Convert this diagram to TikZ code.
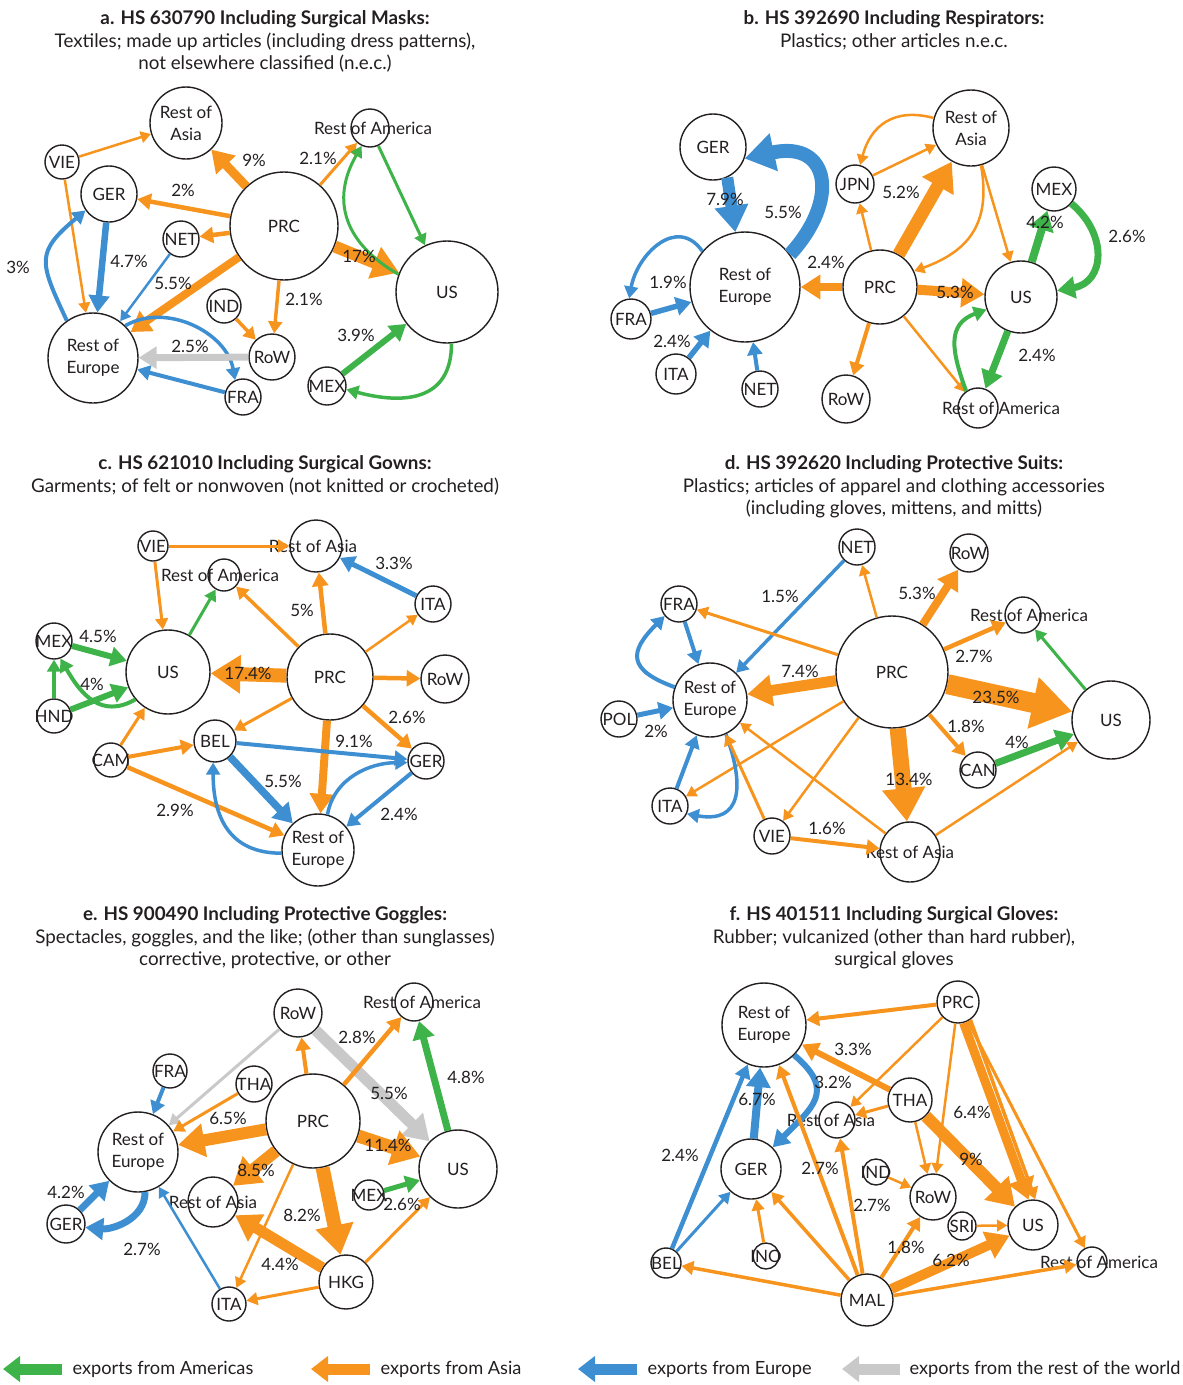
\documentclass[tikz,border=0pt]{standalone}
\usepackage{fontspec}
\setmainfont{Lato}
\usetikzlibrary{arrows.meta, positioning}

\definecolor{amer}{HTML}{3DB34A}
\definecolor{asia}{HTML}{F7941D}
\definecolor{euro}{HTML}{3D8FD1}
\definecolor{rest}{HTML}{C9C9C9}
\definecolor{ink}{HTML}{231F20}

% label of zero width, shifted by half of #1
\newcommand\ctxt[2][0]{\makebox[0pt]{\hspace*{#1pt}#2}}

\tikzset{
    ctry/.style={circle, draw=ink, fill=white, line width=1.4pt, inner sep=0pt,
        minimum size=#1pt, align=center, text=ink},
    flow/.style={-{Triangle[length=6pt 1.7, width=6pt 2.2]}},
    am/.style={flow, draw=amer},
    as/.style={flow, draw=asia},
    eu/.style={flow, draw=euro},
    rw/.style={flow, draw=rest},
    lw/.style={line width=#1pt},
    pct/.style={text=ink, inner sep=0pt},
    ttl/.style={align=center, text=ink, anchor=north, font=\fontsize{18.8}{22.5}\selectfont},
    key/.style={-{Triangle[length=17pt, width=25pt]}, line width=11pt},
    keytxt/.style={anchor=west, text=ink, font=\fontsize{18.2}{20}\selectfont},
}

\begin{document}
\begin{tikzpicture}[x=1pt, y=1pt, font=\fontsize{17}{22}\selectfont]
    \useasboundingbox (0,0) rectangle (1183,-1385);

    % a. surgical masks
    \node[ttl] (aT) at (265,-7) {\textbf{a. HS 630790 Including Surgical Masks:}\\Textiles; made up articles (including dress patterns),\\not elsewhere classified (n.e.c.)};
    \node[ctry=72] (aRAs) at (186,-123) {Rest of\\Asia};
    \node[ctry=34] (aVIE) at (62,-162) {\ctxt{VIE}};
    \node[ctry=56] (aGER) at (109,-194) {\ctxt{GER}};
    \node[ctry=108] (aPRC) at (284,-226) {\ctxt{PRC}};
    \node[ctry=36] (aNET) at (181,-239) {\ctxt{NET}};
    \node[ctry=38] (aRAm) at (370,-128) {\ctxt[6]{Rest of America}};
    \node[ctry=102] (aUS) at (447,-292) {\ctxt{US}};
    \node[ctry=34] (aIND) at (224,-306) {\ctxt{IND}};
    \node[ctry=46] (aRoW) at (272,-357) {\ctxt{RoW}};
    \node[ctry=90] (aRE) at (93,-358) {Rest of\\Europe};
    \node[ctry=36] (aFRA) at (243,-397) {\ctxt{FRA}};
    \node[ctry=38] (aMEX) at (327,-386) {\ctxt{MEX}};

    \draw[as, lw=2.5] (aVIE) -- (aRAs);
    \draw[as, lw=2.5] (aVIE) -- (aRE);
    \draw[as, lw=9] (aPRC) -- (aRAs);
    \draw[as, lw=4.5] (aPRC) -- (aGER);
    \draw[as, lw=4.5] (aPRC) -- (aNET);
    \draw[as, lw=8] (aPRC) -- (aRE);
    \draw[as, lw=3] (aPRC) -- (aRAm);
    \draw[as, lw=12] (aPRC) -- (aUS);
    \draw[as, lw=3.5] (aPRC) -- (aRoW);
    \draw[as, lw=3.5] (aIND) -- (aRoW);
    \draw[am, lw=3] (aRAm) -- (aUS);
    \draw[am, lw=3] (aUS.160) to[out=150, in=240, looseness=1.2] (aRAm.245);
    \draw[am, lw=6] (aMEX) -- (aUS);
    \draw[am, lw=3.5] (aUS.275) to[out=270, in=-15, looseness=1.3] (aMEX.-10);
    \draw[eu, lw=6.5] (aGER) -- (aRE);
    \draw[eu, lw=4] (aRE.125) to[out=115, in=220, looseness=1.5] (aGER.215);
    \draw[eu, lw=2.5] (aNET) -- (aRE);
    \draw[eu, lw=3.5] (aRE.45) to[out=30, in=100] (aFRA.115);
    \draw[eu, lw=4] (aFRA) -- (aRE);
    \draw[rw, lw=7] (aRoW) -- (aRE);

    \node[pct] (aP1) at (254,-160) {9\%};
    \node[pct] (aP2) at (183,-190) {2\%};
    \node[pct] (aP3) at (173,-283) {5.5\%};
    \node[pct] (aP4) at (318,-158) {2.1\%};
    \node[pct] (aP5) at (359,-256) {17\%};
    \node[pct] (aP6) at (304,-299) {2.1\%};
    \node[pct] (aP7) at (129,-261) {4.7\%};
    \node[pct] (aP8) at (18,-267) {3\%};
    \node[pct] (aP9) at (190,-346) {2.5\%};
    \node[pct] (aP10) at (356,-335) {3.9\%};

    % b. respirators
    \node[ttl] (bT) at (894,-7) {\textbf{b. HS 392690 Including Respirators:}\\Plastics; other articles n.e.c.};
    \node[ctry=66] (bGER) at (713,-147) {\ctxt{GER}};
    \node[ctry=110] (bRE) at (745,-287) {Rest of\\Europe};
    \node[ctry=40] (bFRA) at (631,-319) {\ctxt{FRA}};
    \node[ctry=40] (bITA) at (676,-374) {\ctxt{ITA}};
    \node[ctry=36] (bNET) at (760,-389) {\ctxt{NET}};
    \node[ctry=38] (bJPN) at (855,-184) {\ctxt{JPN}};
    \node[ctry=76] (bRAs) at (971,-128) {Rest of\\Asia};
    \node[ctry=74] (bPRC) at (880,-287) {\ctxt{PRC}};
    \node[ctry=48] (bRoW) at (846,-399) {\ctxt{RoW}};
    \node[ctry=44] (bMEX) at (1054,-189) {\ctxt{MEX}};
    \node[ctry=72] (bUS) at (1021,-297) {\ctxt{US}};
    \node[ctry=40] (bRAm) at (978,-408) {\ctxt[46]{Rest of America}};

    \draw[eu, lw=12] (bGER.-65) -- (bRE.100);
    \draw[eu, lw=14] (bRE.36) .. controls (840,-200) and (830,-140) .. (bGER.-20);
    \draw[eu, lw=3.5] (bRE.140) to[out=125, in=80, looseness=1.3] (bFRA.95);
    \draw[eu, lw=5.5] (bFRA) -- (bRE);
    \draw[eu, lw=5.5] (bITA) -- (bRE);
    \draw[eu, lw=4] (bNET) -- (bRE);
    \draw[as, lw=8] (bPRC) -- (bRE);
    \draw[as, lw=2.5] (bPRC) -- (bJPN);
    \draw[as, lw=2.5] (bJPN) -- (bRAs);
    \draw[as, lw=13] (bPRC) -- (bRAs);
    \draw[as, lw=2.5] (bRAs.165) to[out=165, in=75, looseness=1.2] (bJPN.75);
    \draw[as, lw=2.5] (bRAs) -- (bUS);
    \draw[as, lw=2.5] (bRAs.285) to[out=280, in=20, looseness=1.2] (bPRC.25);
    \draw[as, lw=10] (bPRC) -- (bUS);
    \draw[as, lw=4] (bPRC) -- (bRoW);
    \draw[as, lw=2.5] (bPRC) -- (bRAm);
    \draw[am, lw=8] (bUS) -- (bMEX);
    \draw[am, lw=7] (bMEX.-40) to[out=-40, in=10, looseness=1.4] (bUS.10);
    \draw[am, lw=7] (bUS) -- (bRAm);
    \draw[am, lw=4] (bRAm.125) to[out=110, in=200, looseness=1.3] (bUS.200);

    \node[pct] (bP1) at (725,-199) {7.9\%};
    \node[pct] (bP2) at (783,-212) {5.5\%};
    \node[pct] (bP3) at (668,-282) {1.9\%};
    \node[pct] (bP4) at (672,-341) {2.4\%};
    \node[pct] (bP5) at (826,-262) {2.4\%};
    \node[pct] (bP6) at (901,-192) {5.2\%};
    \node[pct] (bP7) at (955,-292) {5.3\%};
    \node[pct] (bP8) at (1045,-222) {4.2\%};
    \node[pct] (bP9) at (1127,-236) {2.6\%};
    \node[pct] (bP10) at (1037,-355) {2.4\%};

    % c. surgical gowns
    \node[ttl] (cT) at (265,-452) {\textbf{c. HS 621010 Including Surgical Gowns:}\\Garments; of felt or nonwoven (not knitted or crocheted)};
    \node[ctry=30] (cVIE) at (153,-546) {\ctxt{VIE}};
    \node[ctry=52] (cRAs) at (316,-546) {\ctxt[-6]{Rest of Asia}};
    \node[ctry=32] (cRAm) at (224,-575) {\ctxt[-8]{Rest of America}};
    \node[ctry=36] (cITA) at (433,-604) {\ctxt{ITA}};
    \node[ctry=36] (cMEX) at (54,-641) {\ctxt{MEX}};
    \node[ctry=84] (cUS) at (168,-672) {\ctxt{US}};
    \node[ctry=86] (cPRC) at (330,-677) {\ctxt{PRC}};
    \node[ctry=48] (cRoW) at (445,-679) {\ctxt{RoW}};
    \node[ctry=34] (cHND) at (54,-716) {\ctxt{HND}};
    \node[ctry=34] (cCAM) at (111,-760) {\ctxt{CAM}};
    \node[ctry=42] (cBEL) at (215,-741) {\ctxt{BEL}};
    \node[ctry=36] (cGER) at (426,-761) {\ctxt{GER}};
    \node[ctry=72] (cRE) at (318,-850) {Rest of\\Europe};

    \draw[as, lw=3] (cVIE) -- (cRAs);
    \draw[as, lw=3] (cVIE) -- (cUS);
    \draw[am, lw=3] (cUS) -- (cRAm);
    \draw[as, lw=3.5] (cPRC) -- (cRAm);
    \draw[as, lw=4.5] (cPRC) -- (cRAs);
    \draw[eu, lw=5] (cITA) -- (cRAs);
    \draw[as, lw=2.5] (cPRC) -- (cITA);
    \draw[as, lw=14] (cPRC) -- (cUS);
    \draw[as, lw=4.5] (cPRC) -- (cRoW);
    \draw[as, lw=3] (cPRC) -- (cBEL);
    \draw[as, lw=4.5] (cPRC) -- (cGER);
    \draw[as, lw=8] (cPRC) -- (cRE);
    \draw[am, lw=6] (cMEX) -- (cUS);
    \draw[am, lw=6] (cHND) -- (cUS);
    \draw[am, lw=3.5] (cHND) -- (cMEX);
    \draw[am, lw=4] (cUS.220) to[out=210, in=300, looseness=1.2] (cMEX.290);
    \draw[as, lw=3] (cCAM) -- (cUS);
    \draw[as, lw=4] (cCAM) -- (cBEL);
    \draw[as, lw=4.5] (cCAM) -- (cRE);
    \draw[eu, lw=4] (cBEL) -- (cGER);
    \draw[eu, lw=7.5] (cBEL) -- (cRE);
    \draw[eu, lw=3.5] (cRE.185) to[out=180, in=270, looseness=1.2] (cBEL.265);
    \draw[eu, lw=3.5] (cRE.75) to[out=80, in=180] (cGER.185);
    \draw[eu, lw=4] (cGER) -- (cRE);

    \node[pct] (cP1) at (302,-610) {5\%};
    \node[pct] (cP2) at (394,-563) {3.3\%};
    \node[pct] (cP3) at (248,-673) {17.4\%};
    \node[pct] (cP4) at (407,-717) {2.6\%};
    \node[pct] (cP5) at (354,-741) {9.1\%};
    \node[pct] (cP6) at (98,-636) {4.5\%};
    \node[pct] (cP7) at (92,-684) {4\%};
    \node[pct] (cP8) at (175,-810) {2.9\%};
    \node[pct] (cP9) at (283,-781) {5.5\%};
    \node[pct] (cP10) at (399,-814) {2.4\%};

    % d. protective suits
    \node[ttl] (dT) at (894,-452) {\textbf{d. HS 392620 Including Protective Suits:}\\Plastics; articles of apparel and clothing accessories\\(including gloves, mittens, and mitts)};
    \node[ctry=36] (dNET) at (857,-547) {\ctxt{NET}};
    \node[ctry=38] (dRoW) at (969,-553) {\ctxt{RoW}};
    \node[ctry=36] (dFRA) at (679,-604) {\ctxt{FRA}};
    \node[ctry=36] (dRAm) at (1023,-615) {\ctxt[12]{Rest of America}};
    \node[ctry=112] (dPRC) at (892,-672) {\ctxt{PRC}};
    \node[ctry=74] (dRE) at (710,-700) {Rest of\\Europe};
    \node[ctry=36] (dPOL) at (619,-719) {\ctxt{POL}};
    \node[ctry=78] (dUS) at (1111,-720) {\ctxt{US}};
    \node[ctry=36] (dCAN) at (978,-770) {\ctxt{CAN}};
    \node[ctry=36] (dITA) at (670,-806) {\ctxt{ITA}};
    \node[ctry=36] (dVIE) at (772,-836) {\ctxt{VIE}};
    \node[ctry=60] (dRAs) at (910,-852) {\ctxt{Rest of Asia}};

    \draw[eu, lw=3.5] (dNET) -- (dRE);
    \draw[as, lw=2.5] (dPRC) -- (dNET);
    \draw[as, lw=8] (dPRC) -- (dRoW);
    \draw[as, lw=4.5] (dPRC) -- (dRAm);
    \draw[as, lw=3] (dPRC) -- (dFRA);
    \draw[as, lw=11] (dPRC) -- (dRE);
    \draw[as, lw=20] (dPRC) -- (dUS);
    \draw[as, lw=4] (dPRC) -- (dCAN);
    \draw[as, lw=16] (dPRC) -- (dRAs);
    \draw[as, lw=2.5] (dPRC) -- (dITA);
    \draw[as, lw=2.5] (dPRC) -- (dVIE);
    \draw[am, lw=3] (dUS) -- (dRAm);
    \draw[am, lw=7] (dCAN) -- (dUS);
    \draw[eu, lw=4] (dRE.160) to[out=160, in=225, looseness=1.8] (dFRA.220);
    \draw[eu, lw=4] (dFRA) -- (dRE);
    \draw[eu, lw=5] (dPOL) -- (dRE);
    \draw[eu, lw=4] (dITA) -- (dRE);
    \draw[eu, lw=3.5] (dRE.-65) to[out=-70, in=-10, looseness=1.6] (dITA.-25);
    \draw[as, lw=3] (dVIE) -- (dRE);
    \draw[as, lw=4] (dVIE) -- (dRAs);
    \draw[as, lw=2.5] (dRAs) -- (dRE);
    \draw[as, lw=2.5] (dRAs) -- (dUS);

    \node[pct] (dP1) at (780,-596) {1.5\%};
    \node[pct] (dP2) at (917,-593) {5.3\%};
    \node[pct] (dP3) at (974,-656) {2.7\%};
    \node[pct] (dP4) at (800,-671) {7.4\%};
    \node[pct] (dP5) at (996,-697) {23.5\%};
    \node[pct] (dP6) at (966,-726) {1.8\%};
    \node[pct] (dP7) at (909,-779) {13.4\%};
    \node[pct] (dP8) at (1017,-742) {4\%};
    \node[pct] (dP9) at (656,-731) {2\%};
    \node[pct] (dP10) at (827,-828) {1.6\%};

    % e. protective goggles
    \node[ttl] (eT) at (265,-903) {\textbf{e. HS 900490 Including Protective Goggles:}\\Spectacles, goggles, and the like; (other than sunglasses)\\corrective, protective, or other};
    \node[ctry=48] (eRoW) at (298,-1013) {\ctxt{RoW}};
    \node[ctry=38] (eRAm) at (414,-1002) {\ctxt[16]{Rest of America}};
    \node[ctry=34] (eFRA) at (170,-1071) {\ctxt{FRA}};
    \node[ctry=36] (eTHA) at (254,-1084) {\ctxt{THA}};
    \node[ctry=94] (ePRC) at (313,-1121) {\ctxt{PRC}};
    \node[ctry=78] (eUS) at (458,-1169) {\ctxt{US}};
    \node[ctry=80] (eRE) at (138,-1152) {Rest of\\Europe};
    \node[ctry=50] (eRAs) at (213,-1202) {\ctxt{Rest of Asia}};
    \node[ctry=30] (eMEX) at (369,-1195) {\ctxt{MEX}};
    \node[ctry=38] (eGER) at (66,-1224) {\ctxt{GER}};
    \node[ctry=54] (eHKG) at (346,-1282) {\ctxt{HKG}};
    \node[ctry=34] (eITA) at (229,-1304) {\ctxt{ITA}};

    \draw[rw, lw=3] (eRoW) -- (eRE);
    \draw[rw, lw=11] (eRoW) -- (eUS);
    \draw[as, lw=4] (ePRC) -- (eRoW);
    \draw[as, lw=4.5] (ePRC) -- (eRAm);
    \draw[am, lw=7] (eUS) -- (eRAm);
    \draw[eu, lw=4] (eFRA) -- (eRE);
    \draw[as, lw=3] (eTHA) -- (eRE);
    \draw[as, lw=12] (ePRC) -- (eRE);
    \draw[as, lw=13] (ePRC) -- (eUS);
    \draw[as, lw=12] (ePRC) -- (eRAs);
    \draw[as, lw=14] (ePRC) -- (eHKG);
    \draw[as, lw=2.5] (ePRC) -- (eITA);
    \draw[as, lw=11] (eHKG) -- (eRAs);
    \draw[as, lw=3] (eHKG) -- (eITA);
    \draw[as, lw=3] (eHKG) -- (eUS);
    \draw[am, lw=5] (eMEX) -- (eUS);
    \draw[eu, lw=7] (eGER) -- (eRE);
    \draw[eu, lw=7] (eRE.-80) to[out=-90, in=-5] (eGER.-10);
    \draw[eu, lw=2.5] (eITA) -- (eRE);

    \node[pct] (eP1) at (389,-1093) {5.5\%};
    \node[pct] (eP2) at (357,-1037) {2.8\%};
    \node[pct] (eP3) at (466,-1077) {4.8\%};
    \node[pct] (eP4) at (228,-1118) {6.5\%};
    \node[pct] (eP5) at (388,-1145) {11.4\%};
    \node[pct] (eP6) at (256,-1170) {8.5\%};
    \node[pct] (eP7) at (302,-1215) {8.2\%};
    \node[pct] (eP8) at (280,-1264) {4.4\%};
    \node[pct] (eP9) at (402,-1204) {2.6\%};
    \node[pct] (eP10) at (66,-1192) {4.2\%};
    \node[pct] (eP11) at (142,-1249) {2.7\%};

    % f. surgical gloves
    \node[ttl] (fT) at (894,-903) {\textbf{f. HS 401511 Including Surgical Gloves:}\\Rubber; vulcanized (other than hard rubber),\\surgical gloves};
    \node[ctry=84] (fRE) at (764,-1025) {Rest of\\Europe};
    \node[ctry=42] (fPRC) at (958,-1002) {\ctxt{PRC}};
    \node[ctry=44] (fTHA) at (910,-1100) {\ctxt{THA}};
    \node[ctry=36] (fRAs) at (837,-1120) {\ctxt[-12]{Rest of Asia}};
    \node[ctry=60] (fGER) at (751,-1169) {\ctxt{GER}};
    \node[ctry=26] (fIND) at (876,-1172) {\ctxt{IND}};
    \node[ctry=46] (fRoW) at (933,-1197) {\ctxt{RoW}};
    \node[ctry=28] (fSRI) at (962,-1226) {\ctxt{SRI}};
    \node[ctry=50] (fUS) at (1033,-1225) {\ctxt{US}};
    \node[ctry=30] (fRAm) at (1092,-1262) {\ctxt[14]{Rest of America}};
    \node[ctry=30] (fBEL) at (666,-1263) {\ctxt{BEL}};
    \node[ctry=26] (fINO) at (766,-1256) {\ctxt{INO}};
    \node[ctry=52] (fMAL) at (867,-1300) {\ctxt{MAL}};

    \draw[as, lw=4] (fPRC) -- (fRE);
    \draw[as, lw=2.5] (fPRC) -- (fRAs);
    \draw[as, lw=2.5] (fPRC) -- (fRoW);
    \draw[as, lw=9] (fPRC.-75) -- (fUS.100);
    \draw[as, lw=3.5] (fPRC.-55) -- (fUS.85);
    \draw[as, lw=3] (fPRC) -- (fRAm);
    \draw[as, lw=6] (fTHA) -- (fRE);
    \draw[as, lw=3] (fTHA) -- (fRAs);
    \draw[as, lw=2.5] (fTHA) -- (fRoW);
    \draw[as, lw=12] (fTHA) -- (fUS);
    \draw[eu, lw=6] (fRE.-45) to[out=-40, in=45, looseness=1.5] (fGER.45);
    \draw[eu, lw=8] (fGER) -- (fRE);
    \draw[eu, lw=4.5] (fBEL) -- (fRE);
    \draw[eu, lw=3] (fBEL) -- (fGER);
    \draw[as, lw=3] (fINO) -- (fGER);
    \draw[as, lw=3.5] (fMAL) -- (fBEL);
    \draw[as, lw=3.5] (fMAL) -- (fGER);
    \draw[as, lw=4] (fMAL) -- (fRE);
    \draw[as, lw=4] (fMAL) -- (fRAs);
    \draw[as, lw=4] (fMAL) -- (fRoW);
    \draw[as, lw=10] (fMAL) -- (fUS);
    \draw[as, lw=3.5] (fMAL) -- (fRAm);
    \draw[as, lw=2.5] (fIND) -- (fRoW);
    \draw[as, lw=2.5] (fSRI) -- (fUS);

    \node[pct] (fP1) at (853,-1049) {3.3\%};
    \node[pct] (fP2) at (833,-1082) {3.2\%};
    \node[pct] (fP3) at (757,-1099) {6.7\%};
    \node[pct] (fP4) at (972,-1112) {6.4\%};
    \node[pct] (fP5) at (971,-1159) {9\%};
    \node[pct] (fP6) at (680,-1155) {2.4\%};
    \node[pct] (fP7) at (820,-1168) {2.7\%};
    \node[pct] (fP8) at (872,-1205) {2.7\%};
    \node[pct] (fP9) at (906,-1247) {1.8\%};
    \node[pct] (fP10) at (951,-1260) {6.2\%};

    % legend
    \coordinate (kAmH) at (3,-1369);
    \coordinate (kAmT) at (62,-1369);
    \coordinate (kAsH) at (311,-1369);
    \coordinate (kAsT) at (370,-1369);
    \coordinate (kEuH) at (578,-1369);
    \coordinate (kEuT) at (637,-1369);
    \coordinate (kRwH) at (842,-1369);
    \coordinate (kRwT) at (900,-1369);
    \draw[key, draw=amer] (kAmT) -- (kAmH);
    \draw[key, draw=asia] (kAsT) -- (kAsH);
    \draw[key, draw=euro] (kEuT) -- (kEuH);
    \draw[key, draw=rest] (kRwT) -- (kRwH);
    \node[keytxt] (kAm) at (69,-1369) {exports from Americas};
    \node[keytxt] (kAs) at (377,-1369) {exports from Asia};
    \node[keytxt] (kEu) at (644,-1369) {exports from Europe};
    \node[keytxt] (kRw) at (906,-1369) {exports from the rest of the world};
\end{tikzpicture}
\end{document}
